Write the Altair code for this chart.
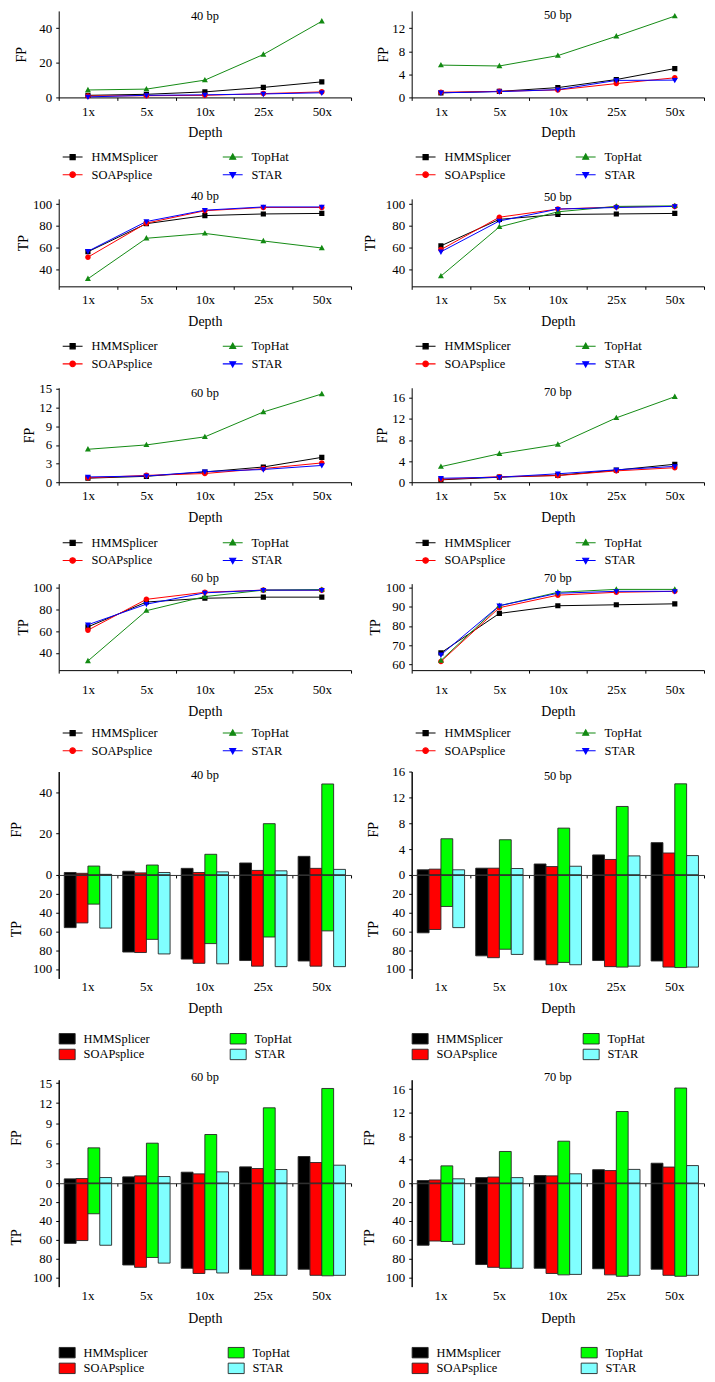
import altair as alt
import pandas as pd

FONT = "Liberation Serif"

DEPTHS = ["1x", "5x", "10x", "25x", "50x"]
TOOLS = ["HMMSplicer", "SOAPsplice", "TopHat", "STAR"]

# False positives per read length (values per depth 1x, 5x, 10x, 25x, 50x)
FP_40 = {"HMMSplicer": [1.2, 1.8, 3.2, 5.8, 9.0],
         "SOAPsplice": [0.8, 1.0, 1.2, 2.2, 3.2],
         "TopHat": [4.3, 4.8, 10.0, 24.8, 44.0],
         "STAR": [0.3, 1.2, 1.5, 2.0, 2.7]}
FP_50 = {"HMMSplicer": [0.8, 1.05, 1.7, 3.1, 5.0],
         "SOAPsplice": [0.9, 1.05, 1.3, 2.4, 3.4],
         "TopHat": [5.6, 5.45, 7.25, 10.6, 14.1],
         "STAR": [0.8, 1.0, 1.35, 2.95, 3.0]}
FP_60 = {"HMMSplicer": [0.65, 0.95, 1.65, 2.45, 4.0],
         "SOAPsplice": [0.7, 1.1, 1.4, 2.2, 3.1],
         "TopHat": [5.3, 6.0, 7.3, 11.3, 14.2],
         "STAR": [0.85, 1.0, 1.7, 2.05, 2.7]}
FP_70 = {"HMMSplicer": [0.45, 0.95, 1.3, 2.3, 3.4],
         "SOAPsplice": [0.55, 1.05, 1.25, 2.15, 2.75],
         "TopHat": [2.95, 5.4, 7.15, 12.2, 16.2],
         "STAR": [0.75, 0.95, 1.6, 2.35, 3.0]}

# True positives per read length
TP_40 = {"HMMSplicer": [56.0, 82.0, 89.5, 91.0, 91.5],
         "SOAPsplice": [51.0, 82.5, 94.0, 97.0, 97.0],
         "TopHat": [31.0, 68.5, 73.0, 66.0, 59.5],
         "STAR": [56.5, 84.0, 94.5, 97.5, 97.5]}
TP_50 = {"HMMSplicer": [61.5, 86.0, 90.5, 91.0, 91.5],
         "SOAPsplice": [58.0, 88.0, 95.5, 97.5, 98.0],
         "TopHat": [33.5, 79.0, 93.0, 98.0, 98.5],
         "STAR": [56.0, 84.5, 95.5, 97.0, 98.0]}
TP_60 = {"HMMSplicer": [64.0, 87.0, 90.5, 91.5, 91.5],
         "SOAPsplice": [61.0, 89.5, 96.0, 98.0, 98.0],
         "TopHat": [32.5, 79.0, 92.0, 98.0, 98.5],
         "STAR": [66.0, 85.0, 95.5, 98.0, 98.0]}
TP_70 = {"HMMSplicer": [66.0, 86.5, 90.5, 91.0, 91.5],
         "SOAPsplice": [61.5, 89.5, 96.0, 97.5, 98.0],
         "TopHat": [62.0, 90.5, 97.5, 99.0, 99.0],
         "STAR": [65.0, 90.5, 97.0, 98.0, 98.0]}

LINE_COLORS = ["#000000", "#ff0000", "#138a13", "#0000ff"]
BAR_COLORS = ["#000000", "#ff0000", "#00ff00", "#80ffff"]
# marker paths with a short line stub (the stub is only stroked in the legend);
# drawn at symbol size 400 -> 10 px per unit
MARKER_PATHS = [
    "M-1,0H1M-0.26,-0.26H0.26V0.26H-0.26Z",
    "M-1,0H1M0.28,0A0.28,0.28,0,1,1,-0.28,0A0.28,0.28,0,1,1,0.28,0Z",
    "M-1,0H1M0,-0.32L0.3,0.22H-0.3Z",
    "M-1,0H1M0,0.32L0.3,-0.22H-0.3Z",
]
SYM = 400


def make_df(vals):
    rows = []
    for t in TOOLS:
        for d, v in zip(DEPTHS, vals[t]):
            rows.append({"depth": d, "tool": t, "value": v})
    return pd.DataFrame(rows)


def make_bar_df(fp, tp):
    rows = []
    for t in TOOLS:
        for d, a, b in zip(DEPTHS, fp[t], tp[t]):
            rows.append({"depth": d, "tool": t, "fp": a, "tp": b})
    return pd.DataFrame(rows)


def title_layer(label, base):
    return alt.Chart(pd.DataFrame({"t": [label]})).mark_text(
        font=FONT, fontSize=12.5, baseline="alphabetic", align="center", color="black"
    ).encode(text="t:N", x=alt.value(147), y=alt.value(base))


def line_panel(vals, metric, label, domain, ticks, h, title_base, ytitle_x,
               xlab_base, depth_base, legend_c):
    df = make_df(vals)
    x = alt.X("depth:N", sort=DEPTHS,
              scale=alt.Scale(type="band", paddingInner=0, paddingOuter=0),
              axis=alt.Axis(title="Depth", tickBand="extent", tickSize=3,
                            labelPadding=xlab_base - 10.3 - 3, labelAngle=0,
                            titleY=depth_base, titleBaseline="alphabetic"))
    y = alt.Y("value:Q", scale=alt.Scale(domain=domain, nice=False, zero=False),
              axis=alt.Axis(title=metric, values=ticks, tickSize=3, labelPadding=4,
                            titleX=ytitle_x, titleY=h / 2, titleAngle=270,
                            titleBaseline="middle", titleAlign="center"))
    leg = alt.Legend(title=None, orient="none", legendX=3, legendY=h + legend_c - 10,
                     columns=2, columnPadding=62, rowPadding=-8, symbolSize=SYM,
                     labelOffset=8, labelFont=FONT, labelFontSize=12.5, labelColor="black",
                     padding=0, symbolOpacity=1, symbolStrokeWidth=1.1)
    lines = alt.Chart(df).mark_line(strokeWidth=1).encode(
        x=x, y=y,
        stroke=alt.Stroke("tool:N", scale=alt.Scale(domain=TOOLS, range=LINE_COLORS),
                          legend=leg))
    pts = alt.Chart(df).mark_point(filled=True, size=SYM, opacity=1).encode(
        x=x, y=y,
        fill=alt.Fill("tool:N", scale=alt.Scale(domain=TOOLS, range=LINE_COLORS), legend=leg),
        shape=alt.Shape("tool:N", scale=alt.Scale(domain=TOOLS, range=MARKER_PATHS),
                        legend=leg))
    return alt.layer(lines, pts, title_layer(label, title_base)).properties(width=294, height=h)


def bar_panel(fp, tp, label, fpmax, fp_ticks, title_base, ytitle_x,
              xlab_base, depth_base, legend_c, fix_label=False):
    H = 208
    df = make_bar_df(fp, tp)
    xscale = alt.Scale(type="band", paddingInner=0, paddingOuter=0)
    xo = alt.XOffset("tool:N", sort=TOOLS, scale=alt.Scale(paddingOuter=0.47, paddingInner=0))
    cscale = alt.Scale(domain=TOOLS, range=BAR_COLORS)
    lkw = {}
    if fix_label:
        lkw["labelExpr"] = "datum.label === 'HMMSplicer' ? 'HMMsplicer' : datum.label"
    legend = alt.Legend(
        title=None, orient="none", legendX=1, legendY=H + legend_c - 7,
        columns=2, columnPadding=78, rowPadding=1, symbolSize=196,
        symbolType="M-1.15,-0.75H1.15V0.75H-1.15Z", symbolStrokeColor="#262626",
        symbolStrokeWidth=0.9, labelOffset=9, labelFont=FONT, labelFontSize=12.5,
        labelColor="black", padding=0, **lkw)
    fp_bars = alt.Chart(df).mark_bar(stroke="#262626", strokeWidth=0.9).encode(
        x=alt.X("depth:N", sort=DEPTHS, scale=xscale,
                axis=alt.Axis(title=None, labels=False, tickBand="extent", tickSize=3,
                              orient="bottom", offset=-H / 2, zindex=1,
                              domainColor="#333333")),
        xOffset=xo,
        y=alt.Y("fp:Q", scale=alt.Scale(domain=[-fpmax, fpmax], nice=False, zero=False),
                axis=alt.Axis(title="FP", values=fp_ticks, orient="left", tickSize=3,
                              labelPadding=4, titleX=ytitle_x, titleY=58, titleAngle=270,
                              titleBaseline="middle", titleAlign="center")),
        color=alt.Color("tool:N", scale=cscale, legend=legend))
    tp_bars = alt.Chart(df).mark_bar(stroke="#262626", strokeWidth=0.9).encode(
        x=alt.X("depth:N", sort=DEPTHS, scale=xscale,
                axis=alt.Axis(title="Depth", domain=False, ticks=False, labelAngle=0,
                              orient="bottom", labelPadding=xlab_base - 10.3,
                              titleY=depth_base, titleBaseline="alphabetic")),
        xOffset=xo,
        y=alt.Y("tp:Q", scale=alt.Scale(domain=[-110, 110], reverse=True, nice=False, zero=False),
                axis=alt.Axis(title="TP", values=[20, 40, 60, 80, 100], orient="left",
                              tickSize=3, labelPadding=4, titleX=ytitle_x, titleY=158,
                              titleAngle=270, titleBaseline="middle", titleAlign="center")),
        color=alt.Color("tool:N", scale=cscale, legend=None))
    return (alt.layer(fp_bars, tp_bars, title_layer(label, title_base))
            .resolve_scale(y="independent")
            .resolve_axis(x="independent", y="independent")
            .properties(width=294, height=H))


panels = [
    line_panel(FP_40, "FP", "40 bp", [0, 50], [0, 20, 40], 87, 9.3, -37, 18, 39.7, 58.7),
    line_panel(FP_50, "FP", "50 bp", [0, 15], [0, 4, 8, 12], 87, 8.3, -28, 18, 39.7, 58.7),
    line_panel(TP_40, "TP", "40 bp", [24, 105], [40, 60, 80, 100], 88, 1.3, -35.5, 18, 39.7, 59),
    line_panel(TP_50, "TP", "50 bp", [24, 105], [40, 60, 80, 100], 88, 2, -41.6, 18, 39.7, 59),
    line_panel(FP_60, "FP", "60 bp", [0, 15.2], [0, 3, 6, 9, 12, 15], 95, 9, -29, 18, 39.7, 59.7),
    line_panel(FP_70, "FP", "70 bp", [0, 17.9], [0, 4, 8, 12, 16], 95, 8.5, -29, 18, 39.7, 59.7),
    line_panel(TP_60, "TP", "60 bp", [24, 104], [40, 60, 80, 100], 87, -1.7, -35, 23.7, 46, 62),
    line_panel(TP_70, "TP", "70 bp", [57, 102], [60, 70, 80, 90, 100], 87, -1.7, -36, 23.7, 46, 62),
    bar_panel(FP_40, TP_40, "40 bp", 50, [0, 20, 40], 7.3, -42, 12, 34, 60),
    bar_panel(FP_50, TP_50, "50 bp", 16, [0, 4, 8, 12, 16], 8, -38, 12, 34, 60),
    bar_panel(FP_60, TP_60, "60 bp", 15.5, [0, 3, 6, 9, 12, 15], 1, -42, 13.3, 35.6, 65.7, True),
    bar_panel(FP_70, TP_70, "70 bp", 17.6, [0, 4, 8, 12, 16], 1, -42, 13.3, 35.6, 65.7, True),
]

chart = (alt.concat(*panels, columns=2, spacing={"row": 102, "column": 61}, bounds="flush")
         .resolve_scale(color="independent", xOffset="independent", shape="independent",
                        stroke="independent", fill="independent")
         .resolve_legend(color="independent", shape="independent", stroke="independent",
                         fill="independent")
         .properties(padding={"left": 2, "top": -3, "right": 2, "bottom": 2})
         .configure_view(stroke=None)
         .configure_axis(labelFont=FONT, titleFont=FONT, labelFontSize=13, titleFontSize=14,
                         titleFontWeight="normal", labelColor="black", titleColor="black",
                         domainColor="black", tickColor="black", grid=False))

chart.save("out.html", embed_options={"renderer": "svg", "actions": False})
